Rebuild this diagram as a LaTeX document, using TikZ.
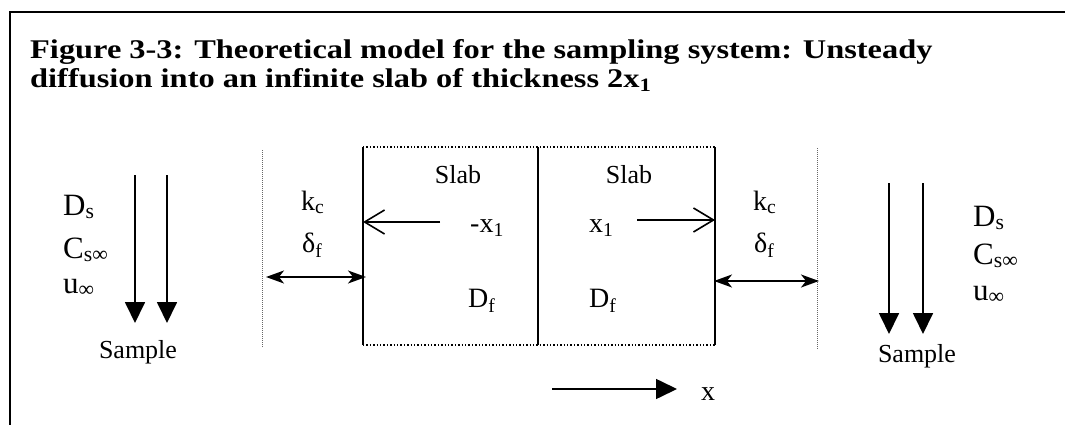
\documentclass[tikz,border=0pt]{standalone}
\usepackage{fontspec}
\setmainfont{Liberation Serif}
\usetikzlibrary{arrows.meta}
\begin{document}
\begin{tikzpicture}[x=1pt,y=-1pt,
  lbl/.style={inner sep=0pt, font=\fontsize{26}{30}\selectfont},
  big/.style={inner sep=0pt, font=\fontsize{28}{32}\selectfont},
  huge/.style={inner sep=0pt, font=\fontsize{31}{35}\selectfont},
  ttl/.style={inner sep=0pt, anchor=base west, font=\fontsize{27}{30}\selectfont\bfseries},
  frameline/.style={line width=1.8pt, black},
  slabwall/.style={line width=2pt, black},
  slabedge/.style={line width=1.4pt, black, dotted},
  film/.style={line width=1pt, black!60, densely dotted},
  flow/.style={line width=1.8pt, -{Triangle[length=21pt,width=20pt]}},
  dbl/.style={line width=1.6pt, {Stealth[length=18pt,width=13pt,inset=5pt]}-{Stealth[length=18pt,width=13pt,inset=5pt]}},
  dir/.style={line width=1.6pt, -{Straight Barb[length=20pt,width=24pt,line width=1.6pt]}},
  axis/.style={line width=1.6pt, -{Triangle[length=21pt,width=20pt]}}]
\useasboundingbox (0,0) rectangle (1065,425);
% frame
\coordinate (fTL) at (10,12);
\coordinate (fTR) at (1065,12);
\coordinate (fBL) at (10,425);
\draw[frameline] (fTR) -- (fTL) -- (fBL);
% title
\node[ttl] (t1) at (30,59) {\scalebox{1.2}[1]{Figure 3-3: Theoretical model for the sampling system: Unsteady}};
\node[ttl] (t2) at (30,88) {\scalebox{1.2}[1]{diffusion into an infinite slab of thickness 2x\textsubscript{1}}};
% slab
\coordinate (sTL) at (363,147);
\coordinate (sBL) at (363,345);
\coordinate (sTM) at (538,147);
\coordinate (sBM) at (538,345);
\coordinate (sTR) at (715,147);
\coordinate (sBR) at (715,345);
\draw[slabedge] (sTL) -- (sTR);
\draw[slabedge] (sBL) -- (sBR);
\draw[slabwall] (sTL) -- (sBL);
\draw[slabwall] (sTM) -- (sBM);
\draw[slabwall] (sTR) -- (sBR);
% film boundaries
\coordinate (dLt) at (262,150);
\coordinate (dLb) at (262,347);
\coordinate (dRt) at (817,148);
\coordinate (dRb) at (817,350);
\draw[film] (dLt) -- (dLb);
\draw[film] (dRt) -- (dRb);
% labels inside slab
\node[lbl, anchor=base] (slabL) at (458,183) {Slab};
\node[lbl, anchor=base] (slabR) at (629,183) {Slab};
\node[big, anchor=base west] (mx1) at (470,232) {-x\textsubscript{1}};
\node[big, anchor=base west] (px1) at (589,232) {x\textsubscript{1}};
\node[big, anchor=base west] (DfL) at (468,307) {D\textsubscript{f}};
\node[big, anchor=base west] (DfR) at (589,307) {D\textsubscript{f}};
\coordinate (mxs) at (440,222);
\coordinate (mxe) at (363,222);
\coordinate (pxs) at (637,220);
\coordinate (pxe) at (715,220);
\draw[dir] (mxs) -- (mxe);
\draw[dir] (pxs) -- (pxe);
% film labels
\node[big, anchor=base west] (kcL) at (301,210) {k\textsubscript{c}};
\node[big, anchor=base west] (dfL) at (302,252) {δ\textsubscript{f}};
\node[big, anchor=base west] (kcR) at (753,210) {k\textsubscript{c}};
\node[big, anchor=base west] (dfR) at (754,252) {δ\textsubscript{f}};
\coordinate (aL1) at (266,277);
\coordinate (aL2) at (366,277);
\coordinate (aR1) at (714,281);
\coordinate (aR2) at (819,281);
\draw[dbl] (aL1) -- (aL2);
\draw[dbl] (aR1) -- (aR2);
% left sample flow
\node[huge, anchor=base west] (DsL) at (63,215) {D\textsubscript{s}};
\node[huge, anchor=base west] (CsL) at (63,258) {C\textsubscript{s∞}};
\node[huge, anchor=base west] (uL) at (63,293) {u\textsubscript{∞}};
\coordinate (l1s) at (135,175);
\coordinate (l1e) at (135,323);
\coordinate (l2s) at (167,175);
\coordinate (l2e) at (167,323);
\draw[flow] (l1s) -- (l1e);
\draw[flow] (l2s) -- (l2e);
\node[lbl, anchor=base] (sampL) at (138,358) {Sample};
% right sample flow
\node[huge, anchor=base west] (DsR) at (973,226) {D\textsubscript{s}};
\node[huge, anchor=base west] (CsR) at (973,264) {C\textsubscript{s∞}};
\node[huge, anchor=base west] (uR) at (973,300) {u\textsubscript{∞}};
\coordinate (r1s) at (889,183);
\coordinate (r1e) at (889,334);
\coordinate (r2s) at (923,183);
\coordinate (r2e) at (923,334);
\draw[flow] (r1s) -- (r1e);
\draw[flow] (r2s) -- (r2e);
\node[lbl, anchor=base] (sampR) at (917,362) {Sample};
% x axis
\coordinate (xs) at (552,389);
\coordinate (xe) at (677,389);
\draw[axis] (xs) -- (xe);
\node[big, anchor=base west] (xl) at (701,400) {x};
\end{tikzpicture}
\end{document}
